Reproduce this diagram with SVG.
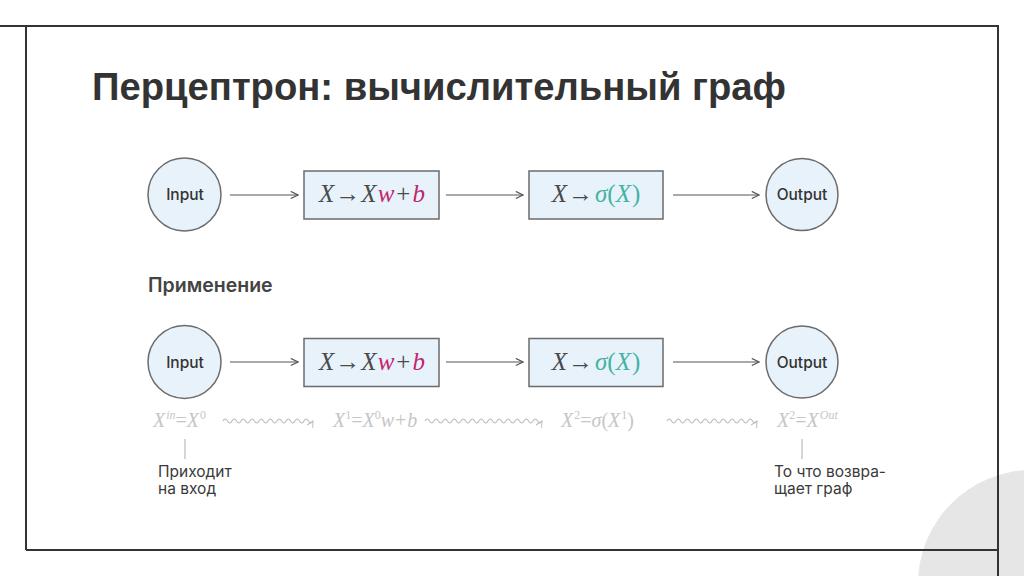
<svg xmlns="http://www.w3.org/2000/svg" width="1024" height="576" viewBox="0 0 1024 576">
<defs>
<style>
.frame{stroke:#333;stroke-width:2;fill:none}
.node{fill:#e8f2fa;stroke:#6b6b6b;stroke-width:1.5}
.lbl{font-family:Inter,"Noto Sans",sans-serif;font-weight:500;font-size:15.5px;fill:#333;text-anchor:middle}
.math{font-family:"Liberation Serif","DejaVu Serif",serif;font-size:25px;fill:#4a4a4a;text-anchor:middle}
.it{font-style:italic}
.mag{fill:#c2266f}
.teal{fill:#45b3a4}
.conn{stroke:#555;stroke-width:1.2;fill:none}
.wave{stroke:#bdbdbd;stroke-width:1.1;fill:none}
.gm{font-family:"Liberation Serif","DejaVu Serif",serif;font-size:20px;fill:#c6c6c6}
.sup{font-size:12px}
.note{font-family:Inter,"Noto Sans",sans-serif;font-size:15.5px;fill:#3a3a3a}
.tick{stroke:#bbb;stroke-width:1.2}
</style>
<marker id="ah" viewBox="0 0 10 10" refX="9" refY="5" markerWidth="9" markerHeight="9" markerUnits="userSpaceOnUse" orient="auto">
<path d="M1,1 L9,5 L1,9" fill="none" stroke="#555" stroke-width="1.3"/>
</marker>
<marker id="ahw" viewBox="0 0 10 10" refX="9" refY="5" markerWidth="8" markerHeight="8" markerUnits="userSpaceOnUse" orient="auto">
<path d="M1,1 L9,5 L1,9" fill="none" stroke="#bdbdbd" stroke-width="1.2"/>
</marker>
</defs>
<rect width="1024" height="576" fill="#fff"/>
<circle cx="1032" cy="584" r="114" fill="#e6e6e6"/>
<g id="frame">
<path class="frame" d="M0,26 H999"/>
<path class="frame" d="M26,26 V550"/>
<path class="frame" d="M26,550 H998"/>
<path class="frame" d="M998,26 V576"/>
</g>
<text id="title" x="92" y="100" font-family="'Liberation Sans',Arial,sans-serif" font-weight="bold" font-size="38" fill="#333" textLength="694" lengthAdjust="spacingAndGlyphs">Перцептрон: вычислительный граф</text>

<g id="connectors">
<path class="conn" d="M230,195 H298" marker-end="url(#ah)"/>
<path class="conn" d="M446,195 H523" marker-end="url(#ah)"/>
<path class="conn" d="M673,195 H759" marker-end="url(#ah)"/>
<path class="conn" d="M230,362 H298" marker-end="url(#ah)"/>
<path class="conn" d="M446,362 H523" marker-end="url(#ah)"/>
<path class="conn" d="M673,362 H759" marker-end="url(#ah)"/>
<path class="wave" d="M223,421 q2.25,-4 4.5,0 t4.5,0 t4.5,0 t4.5,0 t4.5,0 t4.5,0 t4.5,0 t4.5,0 t4.5,0 t4.5,0 t4.5,0 t4.5,0 t4.5,0 t4.5,0 t4.5,0 t4.5,0 t4.5,0 t4.5,0 t4.5,0 t4.5,0" marker-end="url(#ahw)"/>
<path class="wave" d="M425,421 q2.25,-4 4.5,0 t4.5,0 t4.5,0 t4.5,0 t4.5,0 t4.5,0 t4.5,0 t4.5,0 t4.5,0 t4.5,0 t4.5,0 t4.5,0 t4.5,0 t4.5,0 t4.5,0 t4.5,0 t4.5,0 t4.5,0 t4.5,0 t4.5,0 t4.5,0 t4.5,0 t4.5,0 t4.5,0 t4.5,0 t4.5,0" marker-end="url(#ahw)"/>
<path class="wave" d="M667,421 q2.25,-4 4.5,0 t4.5,0 t4.5,0 t4.5,0 t4.5,0 t4.5,0 t4.5,0 t4.5,0 t4.5,0 t4.5,0 t4.5,0 t4.5,0 t4.5,0 t4.5,0 t4.5,0 t4.5,0 t4.5,0 t4.5,0 t4.5,0 t4.5,0" marker-end="url(#ahw)"/>
<path class="tick" d="M185,439 V459"/>
<path class="tick" d="M802,439 V459"/>
</g>

<g id="input1"><circle class="node" cx="184.5" cy="194.5" r="36.5"/><text class="lbl" x="185" y="200">Input</text></g>
<g id="linear1"><rect class="node" x="304" y="171" width="135" height="48"/><text class="math" x="372" y="202"><tspan class="it">X</tspan><tspan dx="1">→</tspan><tspan class="it" dx="1">X</tspan><tspan class="it mag" dx="1">w</tspan><tspan dx="2">+</tspan><tspan class="it mag" dx="2">b</tspan></text></g>
<g id="sigma1"><rect class="node" x="529" y="171" width="134" height="48"/><text class="math" x="596" y="202"><tspan class="it">X</tspan><tspan dx="1">→</tspan><tspan class="it teal" dx="2">σ</tspan><tspan class="teal">(</tspan><tspan class="it teal">X</tspan><tspan class="teal" dx="1">)</tspan></text></g>
<g id="output1"><circle class="node" cx="802" cy="194.5" r="36"/><text class="lbl" x="802" y="200">Output</text></g>

<text id="section" x="148" y="292" font-family="Inter,'Noto Sans',sans-serif" font-weight="600" font-size="19.5" fill="#444">Применение</text>

<g id="input2"><circle class="node" cx="184.5" cy="362" r="36.5"/><text class="lbl" x="185" y="367.5">Input</text></g>
<g id="linear2"><rect class="node" x="304" y="338.5" width="135" height="48"/><text class="math" x="372" y="369.5"><tspan class="it">X</tspan><tspan dx="1">→</tspan><tspan class="it" dx="1">X</tspan><tspan class="it mag" dx="1">w</tspan><tspan dx="2">+</tspan><tspan class="it mag" dx="2">b</tspan></text></g>
<g id="sigma2"><rect class="node" x="529" y="338.5" width="134" height="48"/><text class="math" x="596" y="369.5"><tspan class="it">X</tspan><tspan dx="1">→</tspan><tspan class="it teal" dx="2">σ</tspan><tspan class="teal">(</tspan><tspan class="it teal">X</tspan><tspan class="teal" dx="1">)</tspan></text></g>
<g id="output2"><circle class="node" cx="802" cy="362" r="36"/><text class="lbl" x="802" y="367.5">Output</text></g>

<g id="formula0"><text class="gm" x="153" y="427"><tspan class="it">X</tspan><tspan class="it sup" dy="-8" dx="1">in</tspan><tspan dy="8">=</tspan><tspan class="it">X</tspan><tspan class="sup" dy="-8" dx="1">0</tspan></text></g>
<g id="formula1"><text class="gm" x="333" y="427"><tspan class="it">X</tspan><tspan class="sup" dy="-8">1</tspan><tspan dy="8">=</tspan><tspan class="it">X</tspan><tspan class="sup" dy="-8">0</tspan><tspan class="it" dy="8">w</tspan><tspan dx="1">+</tspan><tspan class="it" dx="1">b</tspan></text></g>
<g id="formula2"><text class="gm" x="561" y="427"><tspan class="it">X</tspan><tspan class="sup" dy="-8" dx="1">2</tspan><tspan dy="8">=</tspan><tspan class="it">σ</tspan>(<tspan class="it">X</tspan><tspan class="sup" dy="-8" dx="1">1</tspan><tspan dy="8">)</tspan></text></g>
<g id="formula3"><text class="gm" x="777" y="427"><tspan class="it">X</tspan><tspan class="sup" dy="-8">2</tspan><tspan dy="8">=</tspan><tspan class="it">X</tspan><tspan class="it sup" dy="-8" dx="1">Out</tspan></text></g>

<g id="note-in"><text class="note" x="158" y="477">Приходит</text><text class="note" x="158" y="494">на вход</text></g>
<g id="note-out"><text class="note" x="774" y="477">То что возвра-</text><text class="note" x="774" y="494">щает граф</text></g>
</svg>
